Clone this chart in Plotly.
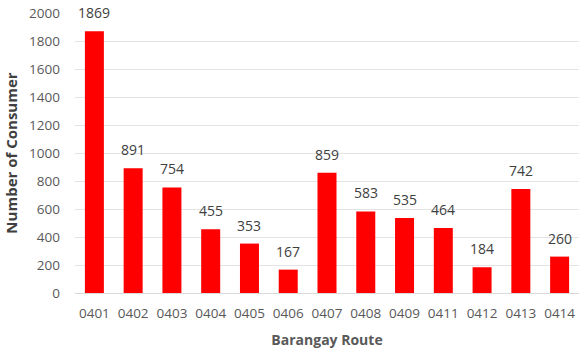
import plotly.graph_objects as go

routes = ["0401", "0402", "0403", "0404", "0405", "0406", "0407",
          "0408", "0409", "0411", "0412", "0413", "0414"]
consumers = [1869, 891, 754, 455, 353, 167, 859, 583, 535, 464, 184, 742, 260]

fig = go.Figure(
    go.Bar(
        x=routes,
        y=consumers,
        marker=dict(color="#ff0000", line=dict(width=0)),
        cliponaxis=False,
    )
)

# value labels above each bar (category index used as x position)
for i, v in enumerate(consumers):
    fig.add_annotation(
        x=i, y=v, text=str(v), showarrow=False,
        yanchor="bottom", yshift=7,
        font=dict(family="Open Sans", size=14, color="#404040"),
    )

fig.update_layout(
    width=579,
    height=353,
    margin=dict(l=75, r=0, t=13, b=60),
    paper_bgcolor="white",
    plot_bgcolor="white",
    bargap=0.51,
    showlegend=False,
    font=dict(family="Open Sans", size=13, color="#595959"),
)

fig.update_xaxes(
    type="category",
    categoryorder="array",
    categoryarray=routes,
    range=[-0.5, len(routes) - 0.5],
    showgrid=False,
    showline=False,
    ticks="",
    ticklabelstandoff=10,
    tickfont=dict(family="Open Sans", size=13.5, color="#595959"),
    title=dict(text="<b>Barangay Route</b>",
               font=dict(family="Open Sans", size=14, color="#595959"),
               standoff=14),
)

fig.update_yaxes(
    range=[0, 2000],
    dtick=200,
    showgrid=True,
    gridcolor="#e3e3e3",
    gridwidth=1,
    zeroline=True,
    zerolinecolor="#d9d9d9",
    zerolinewidth=1,
    showline=False,
    ticks="",
    ticklabelstandoff=14,
    tickfont=dict(family="Open Sans", size=13.5, color="#595959"),
    title=dict(text="<b>Number of Consumer</b>",
               font=dict(family="Open Sans", size=15, color="#404040"),
               standoff=7),
)

fig.write_html("out.html")
